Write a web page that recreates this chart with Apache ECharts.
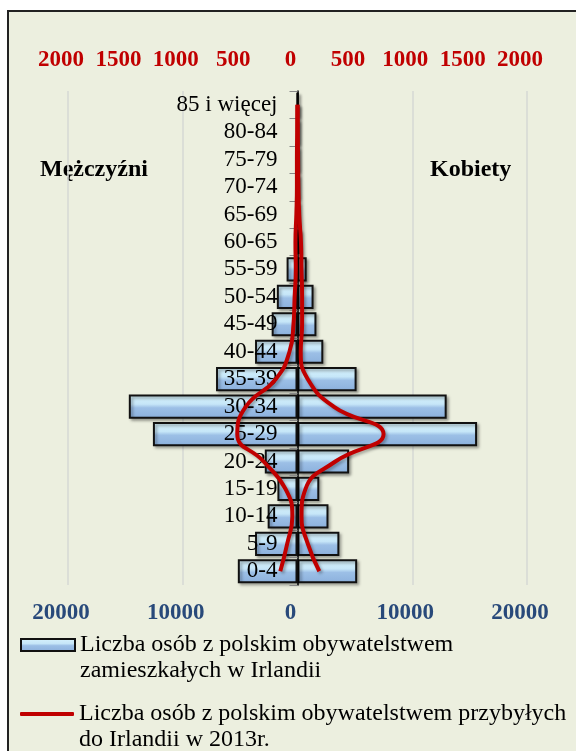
<!DOCTYPE html>
<html>
<head>
<meta charset="utf-8">
<script src="https://cdn.jsdelivr.net/npm/echarts@6/dist/echarts.min.js"></script>
<style>
  body { margin: 0; background: #fff; }
  #frame {
    position: absolute; left: 7px; top: 10px; width: 620px; height: 800px;
    background: #ecefdf; border-left: 2px solid #222; border-top: 2px solid #222;
  }
  #main { position: absolute; left: 0; top: 0; width: 576px; height: 751px; }
</style>
</head>
<body>
<div id="frame"></div>
<div id="main"></div>
<script>
// grupy wieku (od dołu)
var ageGroups = ["0-4", "5-9", "10-14", "15-19", "20-24", "25-29", "30-34", "35-39", "40-44",
  "45-49", "50-54", "55-59", "60-65", "65-69", "70-74", "75-79", "80-84", "85 i więcej"]

// mieszkańcy z polskim obywatelstwem w Irlandii
var menResident = [5200, 3700, 2600, 1750, 2850, 12600, 14700, 7100, 3700,
  2250, 1800, 950, 250, 100, 60, 30, 20, 20]
var womenResident = [5200, 3650, 2700, 1900, 4500, 15650, 13000, 5150, 2250,
  1650, 1400, 800, 300, 120, 80, 50, 30, 30]

// przybyli w 2013r.
var menArrived = [150, 90, 45, 105, 295, 525, 450, 190, 70,
  35, 25, 15, 18, 10, 5, 5, 3, 2]
var womenArrived = [190, 90, 35, 70, 330, 750, 315, 90, 28,
  40, 40, 35, 30, 15, 8, 5, 3, 2]

var bottomTicks = { min: -20000, max: 20000, interval: 10000 }
var topTicks = { min: -2000, max: 2000, interval: 500 }

// pusta pierwsza linia - ikona legendy na wysokości pierwszej linii tekstu
var barName = " \nLiczba osób z polskim obywatelstwem\nzamieszkałych w Irlandii"
var lineName = " \nLiczba osób z polskim obywatelstwem przybyłych\ndo Irlandii w 2013r."

var serif = "'Liberation Serif', 'Times New Roman', serif"

var chart = echarts.init(document.getElementById("main"))

var barStyle = {
  color: new echarts.graphic.LinearGradient(0, 0, 0, 1, [
    { offset: 0, color: "#d8f4fd" },
    { offset: 0.4, color: "#c6e6f8" },
    { offset: 0.55, color: "#9cbfe6" },
    { offset: 1, color: "#8bb0dc" }
  ]),
  borderColor: "#111",
  borderWidth: 2,
  shadowColor: "rgba(0,0,0,0.35)",
  shadowBlur: 3,
  shadowOffsetX: 2,
  shadowOffsetY: 2
}

var lineStyle = {
  color: "#c00000",
  width: 4,
  shadowColor: "rgba(0,0,0,0.3)",
  shadowBlur: 3,
  shadowOffsetX: 2,
  shadowOffsetY: 2
}

var legendText = {
  fontFamily: serif,
  fontSize: 24,
  color: "#000",
  lineHeight: 26
}

var option = {
  animation: false,
  grid: { left: 68, right: 49, top: 91, bottom: 166, containLabel: false, outerBoundsMode: "none" },
  legend: [
    {
      data: [{ name: barName, icon: "rect" }],
      left: 20,
      top: 606,
      padding: 0,
      itemWidth: 54,
      itemHeight: 12,
      selectedMode: false,
      textStyle: legendText
    },
    {
      data: [{ name: lineName, icon: "roundRect", itemStyle: { color: "#c00000", borderWidth: 0 } }],
      left: 20,
      top: 675,
      padding: 0,
      itemWidth: 54,
      itemHeight: 4,
      selectedMode: false,
      textStyle: legendText
    }
  ],
  graphic: [
    {
      type: "text", left: 40, top: 158,
      style: { text: "Mężczyźni", font: "bold 24px " + serif, fill: "#000" }
    },
    {
      type: "text", left: 430, top: 158,
      style: { text: "Kobiety", font: "bold 24px " + serif, fill: "#000" }
    }
  ],
  xAxis: [
    {
      type: "value",
      position: "bottom",
      min: bottomTicks.min,
      max: bottomTicks.max,
      interval: bottomTicks.interval,
      axisLine: { show: false },
      axisTick: { show: false },
      splitLine: { lineStyle: { color: "#d6d8d4", width: 1.5 } },
      axisLabel: {
        formatter: function (v) { return Math.abs(v) },
        fontFamily: serif,
        fontSize: 23,
        fontWeight: "bold",
        color: "#28497a",
        margin: 17,
        padding: [0, 14, 0, 0]
      }
    },
    {
      type: "value",
      position: "top",
      min: topTicks.min,
      max: topTicks.max,
      interval: topTicks.interval,
      axisLine: { show: false },
      axisTick: { show: false },
      splitLine: { show: false },
      axisLabel: {
        formatter: function (v) { return Math.abs(v) },
        fontFamily: serif,
        fontSize: 23,
        fontWeight: "bold",
        color: "#c00000",
        margin: 19,
        padding: [0, 14, 0, 0]
      }
    }
  ],
  yAxis: {
    type: "category",
    data: ageGroups,
    offset: -229.5,
    axisLine: { onZero: false, lineStyle: { color: "#000", width: 1.5 } },
    axisTick: { show: true, length: 8, lineStyle: { color: "#888" } },
    axisLabel: {
      interval: 0,
      fontFamily: serif,
      fontSize: 23,
      color: "#000",
      margin: 20
    },
    z: 5
  },
  series: [
    {
      name: barName,
      type: "bar",
      xAxisIndex: 0,
      data: menResident.map(function (v) { return -v }),
      barGap: "-100%",
      barCategoryGap: "12%",
      itemStyle: barStyle
    },
    {
      name: barName,
      type: "bar",
      xAxisIndex: 0,
      data: womenResident,
      barGap: "-100%",
      barCategoryGap: "12%",
      itemStyle: barStyle
    },
    {
      name: lineName,
      type: "line",
      xAxisIndex: 1,
      data: menArrived.map(function (v) { return -v }),
      smooth: true,
      showSymbol: false,
      symbol: "none",
      lineStyle: lineStyle,
      itemStyle: { color: "#c00000" },
      z: 10
    },
    {
      name: lineName,
      type: "line",
      xAxisIndex: 1,
      data: womenArrived,
      smooth: true,
      showSymbol: false,
      symbol: "none",
      lineStyle: lineStyle,
      itemStyle: { color: "#c00000" },
      z: 10
    }
  ]
}

chart.setOption(option)
window.addEventListener("resize", function () {
  chart.resize()
})
</script>
</body>
</html>
